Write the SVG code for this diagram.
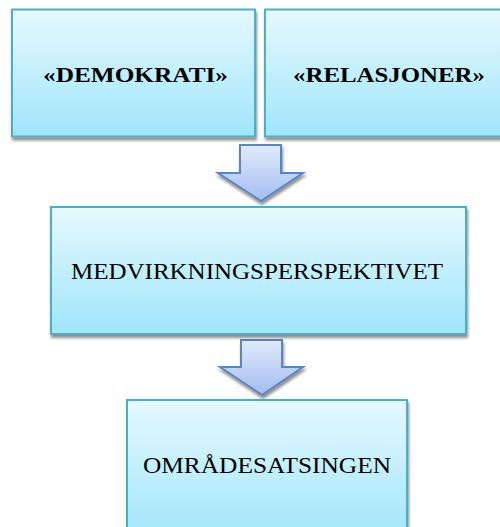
<svg xmlns="http://www.w3.org/2000/svg" width="500" height="527" viewBox="0 0 500 527">
<defs>
<linearGradient id="boxg" x1="0" y1="0" x2="0" y2="1">
<stop offset="0" stop-color="#e6f9fe"/>
<stop offset="1" stop-color="#9fe5fb"/>
</linearGradient>
<linearGradient id="arrg" x1="0" y1="0" x2="0" y2="1">
<stop offset="0" stop-color="#e0eafc"/>
<stop offset="1" stop-color="#a3bdf0"/>
</linearGradient>
<filter id="sh" x="-10%" y="-10%" width="120%" height="130%">
<feGaussianBlur in="SourceAlpha" stdDeviation="1.5"/>
<feOffset dx="1" dy="3" result="b"/>
<feComponentTransfer><feFuncA type="linear" slope="0.45"/></feComponentTransfer>
<feMerge><feMergeNode/><feMergeNode in="SourceGraphic"/></feMerge>
</filter>
</defs>
<style>
.box{fill:url(#boxg);stroke:#4eaec8;stroke-width:2;filter:url(#sh)}
.arr{fill:url(#arrg);stroke:#5a85c3;stroke-width:2;stroke-linejoin:miter;filter:url(#sh)}
.tb{font-family:"Liberation Serif","Times New Roman",serif;font-weight:bold;font-size:21px;fill:#000}
.tr{font-family:"Liberation Serif","Times New Roman",serif;font-size:24px;fill:#000}
</style>
<g id="connectors">
<polygon class="arr" points="240,145 281,145 281,173 303,173 261,201 218,173 240,173"/>
<polygon class="arr" points="241,340 282,340 282,367 303,367 262,395 220,367 241,367"/>
</g>
<g id="demokrati">
<rect class="box" x="12" y="9.5" width="243" height="127"/>
<text class="tb" x="43" y="82" textLength="185" lengthAdjust="spacingAndGlyphs">«DEMOKRATI»</text>
</g>
<g id="relasjoner">
<rect class="box" x="265" y="9.5" width="245" height="127"/>
<text class="tb" x="293" y="82" textLength="192" lengthAdjust="spacingAndGlyphs">«RELASJONER»</text>
</g>
<g id="medvirkning">
<rect class="box" x="51" y="207" width="415" height="127"/>
<text class="tr" x="71" y="279" textLength="372" lengthAdjust="spacingAndGlyphs">MEDVIRKNINGSPERSPEKTIVET</text>
</g>
<g id="omradesatsingen">
<rect class="box" x="127" y="400" width="280" height="140"/>
<text class="tr" x="143" y="473" textLength="248" lengthAdjust="spacingAndGlyphs">OMRÅDESATSINGEN</text>
</g>
</svg>
